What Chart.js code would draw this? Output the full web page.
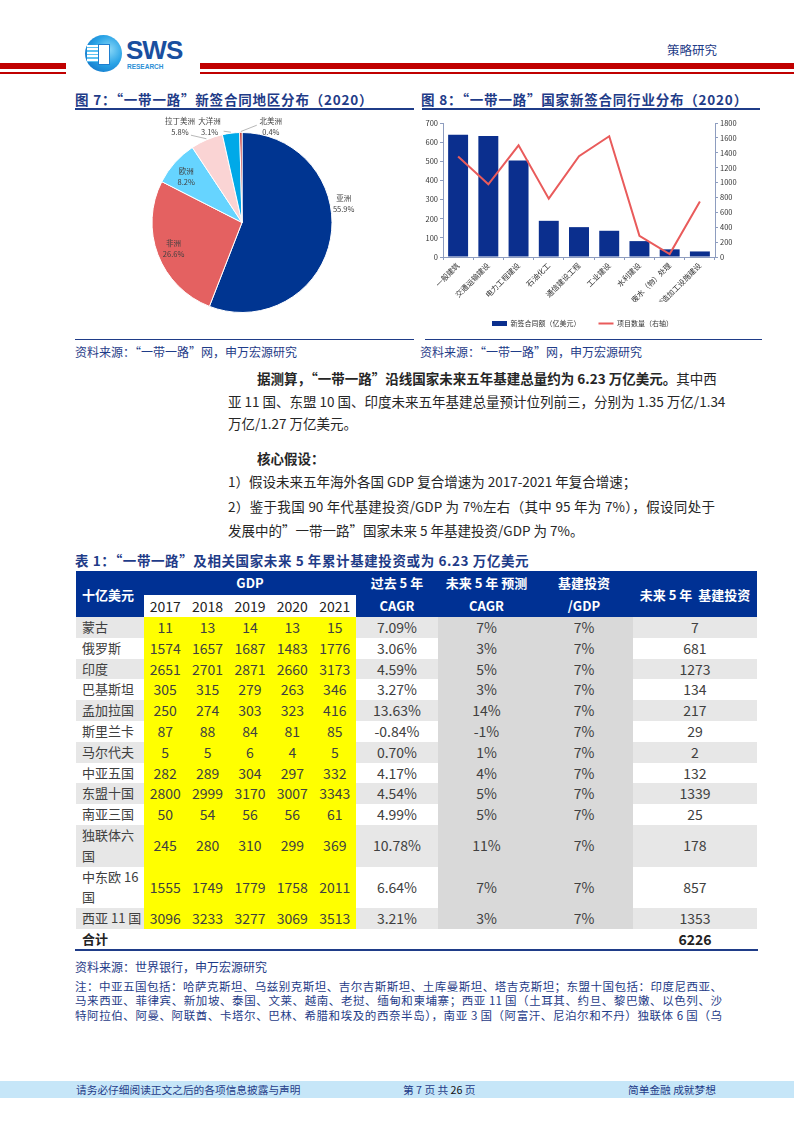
<!DOCTYPE html>
<html>
<head>
<meta charset="utf-8">
<script src="https://cdn.jsdelivr.net/npm/chart.js@4.4.1/dist/chart.umd.min.js"></script>
<style>
  body { margin: 0; width: 794px; height: 1123px; position: relative; background: #fff; font-family: "Noto Sans CJK SC", sans-serif; overflow: hidden; }
  .abs { position: absolute; white-space: nowrap; }
  .blue { color: #1f3c88; }
  .title { font-size: 13.5px; font-weight: bold; color: #1f3c88; line-height: 16px; letter-spacing: 0.8px; }
  .src { font-size: 12px; color: #1f3c88; line-height: 16px; }
  .rule { position: absolute; height: 1.5px; background: #1f3c88; }
  .red { position: absolute; background: #c00000; }
  .body { font-size: 13.5px; color: #262626; line-height: 18px; }
  .just { text-align: justify; text-align-last: justify; }
  .note { font-size: 11.5px; color: #1f3c88; line-height: 13px; }
  #tbl { position: absolute; left: 76px; top: 571px; border-collapse: collapse; table-layout: fixed; width: 681px; }
  #tbl td { padding: 0; text-align: center; color: #404040; font-size: 14px; font-family: "Liberation Sans Narrow", "Noto Sans CJK SC", sans-serif; line-height: 20.8px; }
  #tbl td.nm { text-align: left; padding-left: 6px; font-family: "Noto Sans CJK SC", sans-serif; font-size: 13px; white-space: normal; }
  #tbl td.hd { background: #003194; color: #fff; font-weight: bold; font-family: "Noto Sans CJK SC", sans-serif; font-size: 13px; line-height: 23px; }
  #tbl td.yr { background: #fff; color: #222; line-height: 22px; }
</style>
</head>
<body>

<!-- header -->
<div class="red" style="left:0;top:63px;width:66px;height:6px"></div>
<div class="red" style="left:0;top:72px;width:66px;height:2px"></div>
<div class="red" style="left:200px;top:63px;width:594px;height:6px"></div>
<div class="red" style="left:200px;top:72px;width:594px;height:2px"></div>
<div class="abs" style="left:85px;top:35px;width:37px;height:37px;border-radius:50%;background:radial-gradient(circle at 65% 40%, #8ad8f8 0%, #29a3e6 45%, #0a63bd 100%)"></div>
<div class="abs" style="left:87px;top:45px;width:13px;height:17px;background:repeating-linear-gradient(#ffffff 0 2px, #5ec3f2 2px 3.5px)"></div>
<div class="abs" style="left:98px;top:44px;width:10px;height:19px;background:#fff;border:1px solid #1f7fd0"></div>
<div class="abs" style="left:126px;top:39px;font-family:'Liberation Sans',sans-serif;font-weight:bold;font-size:26px;line-height:22px;color:#1a4f9f;letter-spacing:-1px">SWS</div>
<div class="abs" style="left:127px;top:63px;font-family:'Liberation Sans',sans-serif;font-weight:bold;font-size:6.5px;line-height:7px;color:#2b8fd6">RESEARCH</div>
<div class="abs blue" style="left:667px;top:42px;font-size:12.5px;line-height:16px">策略研究</div>

<!-- figure titles -->
<div class="abs title" style="left:75px;top:91px">图 7：“一带一路”新签合同地区分布（2020）</div>
<div class="rule" style="left:75px;top:108px;width:339px"></div>
<div class="abs title" style="left:421px;top:91px">图 8：“一带一路”国家新签合同行业分布（2020）</div>
<div class="rule" style="left:422px;top:108px;width:338px"></div>

<canvas id="pieChart" width="316" height="204" style="position:absolute;left:75px;top:112px"></canvas>
<canvas id="comboChart" width="340" height="225" style="position:absolute;left:415px;top:112px"></canvas>

<div class="rule" style="left:75px;top:339px;width:339px;height:1px"></div>
<div class="rule" style="left:425px;top:339px;width:337px;height:1px"></div>
<div class="abs src" style="left:75px;top:344px">资料来源：“一带一路”网，申万宏源研究</div>
<div class="abs src" style="left:420px;top:344px">资料来源：“一带一路”网，申万宏源研究</div>

<!-- body text -->
<div class="abs body just" style="left:257px;top:369px;width:458px"><b>据测算，“一带一路”沿线国家未来五年基建总量约为 6.23 万亿美元。</b>其中西</div>
<div class="abs body just" style="left:228px;top:392px;width:487px">亚 11 国、东盟 10 国、印度未来五年基建总量预计位列前三，分别为 1.35 万亿/1.34</div>
<div class="abs body" style="left:228px;top:414px">万亿/1.27 万亿美元。</div>
<div class="abs body" style="left:257px;top:449px"><b>核心假设：</b></div>
<div class="abs body" style="left:228px;top:472px">1）假设未来五年海外各国 GDP 复合增速为 2017-2021 年复合增速；</div>
<div class="abs body just" style="left:228px;top:497px;width:487px">2）鉴于我国 90 年代基建投资/GDP 为 7%左右（其中 95 年为 7%），假设同处于</div>
<div class="abs body" style="left:228px;top:521px">发展中的”一带一路”国家未来 5 年基建投资/GDP 为 7%。</div>

<!-- table -->
<div class="abs title" style="left:75px;top:552px;letter-spacing:0.6px">表 1：“一带一路”及相关国家未来 5 年累计基建投资或为 6.23 万亿美元</div>
<table id="tbl"></table>
<div class="rule" style="left:75px;top:949px;width:683px"></div>
<div class="abs src" style="left:75px;top:959px">资料来源：世界银行，申万宏源研究</div>
<div class="abs note just" style="left:75px;top:979.5px;width:647px">注：中亚五国包括：哈萨克斯坦、乌兹别克斯坦、吉尔吉斯斯坦、土库曼斯坦、塔吉克斯坦；东盟十国包括：印度尼西亚、</div>
<div class="abs note just" style="left:75px;top:994px;width:647px">马来西亚、菲律宾、新加坡、泰国、文莱、越南、老挝、缅甸和柬埔寨；西亚 11 国（土耳其、约旦、黎巴嫩、以色列、沙</div>
<div class="abs note just" style="left:75px;top:1008.5px;width:647px">特阿拉伯、阿曼、阿联酋、卡塔尔、巴林、希腊和埃及的西奈半岛），南亚 3 国（阿富汗、尼泊尔和不丹）独联体 6 国（乌</div>

<!-- footer -->
<div class="abs" style="left:0;top:1081px;width:794px;height:17px;background:#c6e6f8"></div>
<div class="abs blue" style="left:76px;top:1081px;font-size:10.7px;line-height:17px">请务必仔细阅读正文之后的各项信息披露与声明</div>
<div class="abs blue" style="left:403px;top:1081px;font-size:10.7px;line-height:17px">第 7 页 共 <span style="color:#111">26</span> 页</div>
<div class="abs blue" style="left:628px;top:1081px;font-size:10.7px;line-height:17px">简单金融 成就梦想</div>

<script>
// figure 7 - region split
var regionLabels = ['亚洲', '非洲', '欧洲', '拉丁美洲', '大洋洲', '北美洲'];
var regionShares = [55.9, 26.6, 8.2, 5.8, 3.1, 0.4];
var regionColors = ['#003591', '#e46161', '#66d4ff', '#fad4d4', '#00a9e8', '#b50a0a'];

// figure 8 - industry split
var industryLabels = ['一般建筑', '交通运输建设', '电力工程建设', '石油化工', '通信建设工程', '工业建设', '水利建设', '废水（物）处理', '制造加工设施建设'];
var contractValues = [639, 632, 504, 189, 156, 137, 83, 40, 29];
var projectCounts = [1350, 976, 1500, 784, 1354, 1622, 285, 40, 744];
var leftTicks = [0, 100, 200, 300, 400, 500, 600, 700];
var rightTicks = [0, 200, 400, 600, 800, 1000, 1200, 1400, 1600, 1800];

// table 1
var tableRegions = ['蒙古', '俄罗斯', '印度', '巴基斯坦', '孟加拉国', '斯里兰卡', '马尔代夫', '中亚五国', '东盟十国', '南亚三国', '独联体六国', '中东欧 16 国', '西亚 11 国'];
var gdp2017 = [11, 1574, 2651, 305, 250, 87, 5, 282, 2800, 50, 245, 1555, 3096];
var gdp2018 = [13, 1657, 2701, 315, 274, 88, 5, 289, 2999, 54, 280, 1749, 3233];
var gdp2019 = [14, 1687, 2871, 279, 303, 84, 6, 304, 3170, 56, 310, 1779, 3277];
var gdp2020 = [13, 1483, 2660, 263, 323, 81, 4, 297, 3007, 56, 299, 1758, 3069];
var gdp2021 = [15, 1776, 3173, 346, 416, 85, 5, 332, 3343, 61, 369, 2011, 3513];
var pastCagr = ['7.09%', '3.06%', '4.59%', '3.27%', '13.63%', '-0.84%', '0.70%', '4.17%', '4.54%', '4.99%', '10.78%', '6.64%', '3.21%'];
var futureCagr = ['7%', '3%', '5%', '3%', '14%', '-1%', '1%', '4%', '5%', '5%', '11%', '7%', '3%'];
var infraRatio = ['7%', '7%', '7%', '7%', '7%', '7%', '7%', '7%', '7%', '7%', '7%', '7%', '7%'];
var infra5y = [7, 681, 1273, 134, 217, 29, 2, 132, 1339, 25, 178, 857, 1353];
var infraTotal = 6226;

Chart.defaults.font.family = '"Noto Sans CJK SC", sans-serif';
Chart.defaults.color = '#333';

// label spots as multiples of the radius: dx, dy, leader start dx, dy
var labelSpots = [
    [1.13, -0.22],
    [-0.76, 0.29],
    [-0.62, -0.52],
    [-0.69, -1.07, 11, 9],
    [-0.36, -1.07, 14, 5],
    [0.32, -1.07, -14, -1]
];

var pieLabels = {
    id: 'pieLabels',
    afterDatasetsDraw: function(chart) {
        var ctx = chart.ctx;
        var meta = chart.getDatasetMeta(0);
        ctx.save();
        ctx.font = '7.5px "Noto Sans CJK SC"';
        ctx.fillStyle = '#404040';
        ctx.textAlign = 'center';
        ctx.textBaseline = 'middle';
        meta.data.forEach(function(arc, i) {
            var r = arc.outerRadius;
            var spot = labelSpots[i];
            var x = arc.x + spot[0] * r;
            var y = arc.y + spot[1] * r;
            if (spot.length > 2) {
                var mid = (arc.startAngle + arc.endAngle) / 2;
                ctx.strokeStyle = '#9a9a9a';
                ctx.lineWidth = 0.7;
                ctx.beginPath();
                ctx.moveTo(x + spot[2], y + spot[3]);
                ctx.lineTo(arc.x + Math.cos(mid) * (r + 1), arc.y + Math.sin(mid) * (r + 1));
                ctx.stroke();
            }
            ctx.fillText(regionLabels[i], x, y - 5);
            ctx.fillText(regionShares[i].toFixed(1) + '%', x, y + 6);
        });
        ctx.restore();
    }
};

var pieChart = new Chart(document.getElementById('pieChart').getContext('2d'), {
    type: 'pie',
    data: {
        labels: regionLabels,
        datasets: [{
            data: regionShares,
            backgroundColor: regionColors,
            borderColor: '#fff',
            borderWidth: 1
        }]
    },
    options: {
        responsive: false,
        animation: false,
        layout: { padding: { left: 18, right: 0, top: 20, bottom: 3 } },
        plugins: { legend: { display: false }, tooltip: { enabled: false } }
    },
    plugins: [pieLabels]
});

var axisColor = '#8e9dbf';
var tickFont = { size: 7.5 };
var plainNum = function(v) { return String(v); };

var comboChart = new Chart(document.getElementById('comboChart').getContext('2d'), {
    type: 'bar',
    data: {
        labels: industryLabels,
        datasets: [{
            label: '新签合同额（亿美元）',
            data: contractValues,
            backgroundColor: '#0b2f8e',
            barPercentage: 0.66,
            categoryPercentage: 1,
            yAxisID: 'y',
            order: 2
        }, {
            type: 'line',
            label: '项目数量（右轴）',
            data: projectCounts,
            borderColor: '#e95b5b',
            backgroundColor: '#e95b5b',
            borderWidth: 2,
            pointRadius: 0,
            tension: 0,
            yAxisID: 'y1',
            order: 1
        }]
    },
    options: {
        responsive: false,
        animation: false,
        layout: { padding: { left: 0, right: 5, top: 11, bottom: 0 } },
        scales: {
            x: {
                grid: { display: true, drawOnChartArea: false, tickLength: 3, color: axisColor },
                border: { color: axisColor },
                ticks: { minRotation: 45, maxRotation: 45, autoSkip: false, font: tickFont, padding: 1 },
                afterFit: function(s) { s.height = 45; }
            },
            y: {
                position: 'left',
                min: leftTicks[0],
                max: leftTicks[leftTicks.length - 1],
                ticks: { stepSize: leftTicks[1] - leftTicks[0], font: tickFont, padding: 2, callback: plainNum },
                grid: { drawOnChartArea: false, tickLength: 3, color: axisColor },
                border: { color: axisColor },
                afterFit: function(s) { s.width = 28; }
            },
            y1: {
                position: 'right',
                min: rightTicks[0],
                max: rightTicks[rightTicks.length - 1],
                ticks: { stepSize: rightTicks[1] - rightTicks[0], font: tickFont, padding: 2, callback: plainNum },
                grid: { drawOnChartArea: false, tickLength: 3, color: axisColor },
                border: { color: axisColor },
                afterFit: function(s) { s.width = 35; }
            }
        },
        plugins: {
            tooltip: { enabled: false },
            legend: {
                position: 'bottom',
                reverse: true,
                labels: {
                    font: { size: 7 },
                    color: '#333',
                    usePointStyle: true,
                    pointStyleWidth: 15,
                    boxHeight: 5,
                    padding: 18,
                    generateLabels: function(chart) {
                        var items = Chart.defaults.plugins.legend.labels.generateLabels(chart);
                        items.forEach(function(it) {
                            if (it.datasetIndex === 0) {
                                it.pointStyle = 'rect';
                                it.lineWidth = 0;
                            } else {
                                it.pointStyle = 'line';
                                it.lineWidth = 2;
                            }
                        });
                        return items;
                    }
                }
            }
        }
    }
});

// build table
var tbl = document.getElementById('tbl');
var colWidths = [68, 42.4, 42.4, 42.4, 42.4, 42.4, 82, 97, 98, 124];
var html = '<colgroup>';
colWidths.forEach(function(w) { html += '<col style="width:' + w + 'px">'; });
html += '</colgroup>';
html += '<tr style="height:23px"><td class="hd" rowspan="2" style="text-align:left;padding-left:6px">十亿美元</td>' +
    '<td class="hd" colspan="5">GDP</td>' +
    '<td class="hd" rowspan="2">过去 5 年<br>CAGR</td>' +
    '<td class="hd" rowspan="2">未来 5 年 预测<br>CAGR</td>' +
    '<td class="hd" rowspan="2">基建投资<br>/GDP</td>' +
    '<td class="hd" rowspan="2">未来 5 年&nbsp; 基建投资</td></tr>';
html += '<tr style="height:22px">';
['2017', '2018', '2019', '2020', '2021'].forEach(function(y) { html += '<td class="yr">' + y + '</td>'; });
html += '</tr>';
tableRegions.forEach(function(name, i) {
    var band = (i % 2 === 0) ? '#e7e7e7' : '#ffffff';
    var tall = (name.length > 4 && name !== '西亚 11 国');
    var h = tall ? 41.6 : 20.8;
    html += '<tr style="height:' + h + 'px">';
    html += '<td class="nm" style="background:' + band + '">' + name + '</td>';
    [gdp2017, gdp2018, gdp2019, gdp2020, gdp2021].forEach(function(arr) {
        html += '<td style="background:#ffff00">' + arr[i] + '</td>';
    });
    html += '<td style="background:' + band + '">' + pastCagr[i] + '</td>';
    html += '<td style="background:#d9d9d9">' + futureCagr[i] + '</td>';
    html += '<td style="background:#d9d9d9">' + infraRatio[i] + '</td>';
    html += '<td style="background:' + band + '">' + infra5y[i] + '</td>';
    html += '</tr>';
});
html += '<tr style="height:20.8px"><td class="nm" style="font-weight:bold;color:#222">合计</td><td colspan="8"></td>' +
    '<td style="font-weight:bold;color:#222">' + infraTotal + '</td></tr>';
tbl.innerHTML = html;
</script>
</body>
</html>
